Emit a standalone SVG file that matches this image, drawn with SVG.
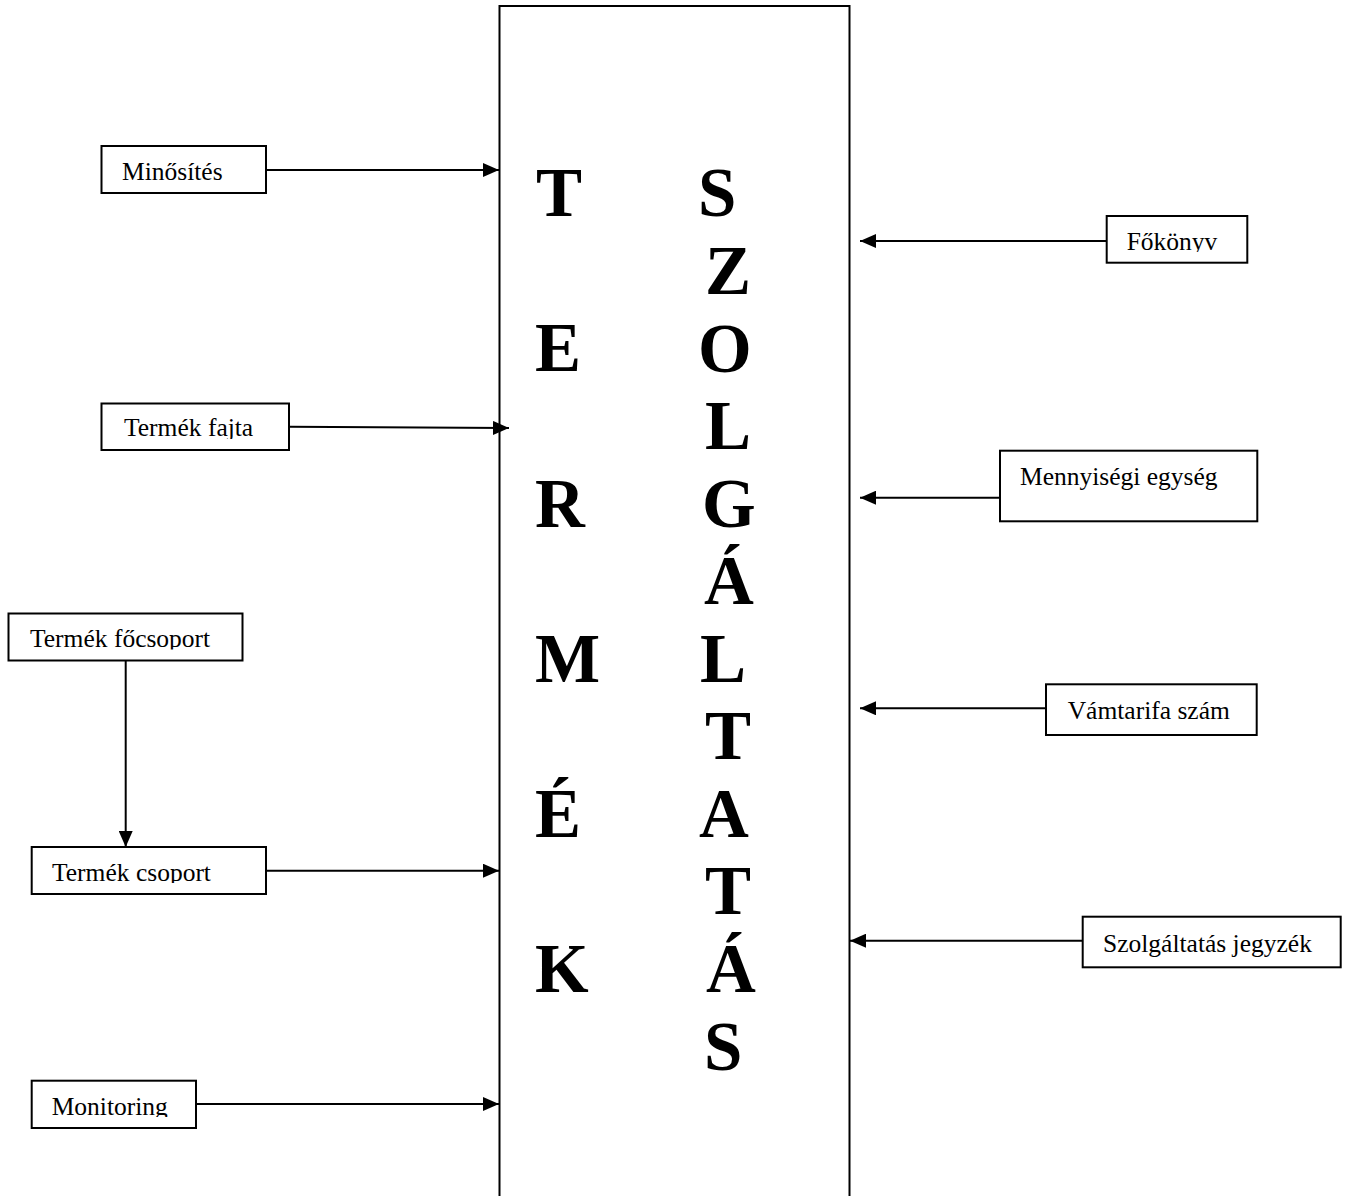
<svg xmlns="http://www.w3.org/2000/svg" width="1350" height="1196" viewBox="0 0 1350 1196">
<style>
.box{fill:#fff;stroke:#000;stroke-width:2}
.lbl{font-family:"Liberation Serif","Times New Roman",serif;font-size:25.5px;fill:#000}
.big{font-family:"Liberation Serif","Times New Roman",serif;font-size:69px;font-weight:bold;fill:#000}
.conn{fill:none;stroke:#000;stroke-width:2}
</style>
<defs>
<marker id="ah" viewBox="0 0 16 14" refX="16" refY="7" markerWidth="16" markerHeight="14" markerUnits="userSpaceOnUse" orient="auto">
<path d="M0,0 L16,7 L0,14 Z" fill="#000"/>
</marker>
<clipPath id="c1"><rect x="100" y="400" width="200" height="39"/></clipPath>
<clipPath id="c2"><rect x="1100" y="210" width="160" height="42"/></clipPath>
<clipPath id="c3"><rect x="0" y="610" width="250" height="39.5"/></clipPath>
<clipPath id="c4"><rect x="30" y="845" width="240" height="38"/></clipPath>
<clipPath id="c5"><rect x="30" y="1078" width="170" height="39"/></clipPath>
</defs>
<g id="main">
<rect class="box" x="499.5" y="6" width="350" height="1210"/>
<g id="termek">
<text class="big" x="536" y="216">T</text>
<text class="big" x="535" y="371">E</text>
<text class="big" x="535" y="527">R</text>
<text class="big" x="535" y="682">M</text>
<text class="big" x="535" y="837">É</text>
<text class="big" x="535" y="992">K</text>
</g>
<g id="szolgaltatas">
<text class="big" x="698" y="216">S</text>
<text class="big" x="705" y="294">Z</text>
<text class="big" x="698" y="371.5">O</text>
<text class="big" x="705" y="448.5">L</text>
<text class="big" x="702" y="526.5">G</text>
<text class="big" x="704" y="604">Á</text>
<text class="big" x="700" y="682">L</text>
<text class="big" x="705" y="759">T</text>
<text class="big" x="699" y="837">A</text>
<text class="big" x="705" y="914">T</text>
<text class="big" x="706" y="992">Á</text>
<text class="big" x="704" y="1070">S</text>
</g>
</g>
<g id="n-minosites"><rect class="box" x="101.5" y="146" width="164.5" height="47"/><text class="lbl" x="122" y="180">Minősítés</text></g>
<g id="n-termekfajta"><rect class="box" x="101.5" y="403.5" width="187.5" height="46.5"/><text class="lbl" x="124" y="436" clip-path="url(#c1)">Termék fajta</text></g>
<g id="n-focsoport"><rect class="box" x="8.5" y="613.5" width="234" height="47"/><text class="lbl" x="30" y="646.5" clip-path="url(#c3)">Termék főcsoport</text></g>
<g id="n-csoport"><rect class="box" x="31.7" y="847" width="234.3" height="47"/><text class="lbl" x="52" y="880.5" clip-path="url(#c4)">Termék csoport</text></g>
<g id="n-monitoring"><rect class="box" x="31.7" y="1080.7" width="164.3" height="47.3"/><text class="lbl" x="51.7" y="1115" clip-path="url(#c5)">Monitoring</text></g>
<g id="n-fokonyv"><rect class="box" x="1106.7" y="216" width="140.6" height="46.7"/><text class="lbl" x="1126.7" y="250" clip-path="url(#c2)">Főkönyv</text></g>
<g id="n-mennyisegi"><rect class="box" x="1000" y="450.7" width="257.3" height="70.6"/><text class="lbl" x="1020" y="485">Mennyiségi egység</text></g>
<g id="n-vamtarifa"><rect class="box" x="1046" y="684.3" width="210.7" height="50.7"/><text class="lbl" x="1067.7" y="719.3">Vámtarifa szám</text></g>
<g id="n-szolgjegyzek"><rect class="box" x="1082.7" y="916.7" width="258" height="50.6"/><text class="lbl" x="1103" y="951.7">Szolgáltatás jegyzék</text></g>
<g id="connectors">
<line class="conn" x1="266" y1="170" x2="499" y2="170" marker-end="url(#ah)"/>
<line class="conn" x1="289" y1="426.7" x2="509" y2="428" marker-end="url(#ah)"/>
<line class="conn" x1="125.7" y1="660.5" x2="125.7" y2="847" marker-end="url(#ah)"/>
<line class="conn" x1="266" y1="870.7" x2="499" y2="870.7" marker-end="url(#ah)"/>
<line class="conn" x1="196" y1="1104" x2="499" y2="1104" marker-end="url(#ah)"/>
<line class="conn" x1="1106.7" y1="241" x2="860" y2="241" marker-end="url(#ah)"/>
<line class="conn" x1="1000" y1="497.7" x2="860" y2="497.7" marker-end="url(#ah)"/>
<line class="conn" x1="1046" y1="708.3" x2="860" y2="708.3" marker-end="url(#ah)"/>
<line class="conn" x1="1082.7" y1="940.7" x2="850" y2="940.7" marker-end="url(#ah)"/>
</g>
</svg>
